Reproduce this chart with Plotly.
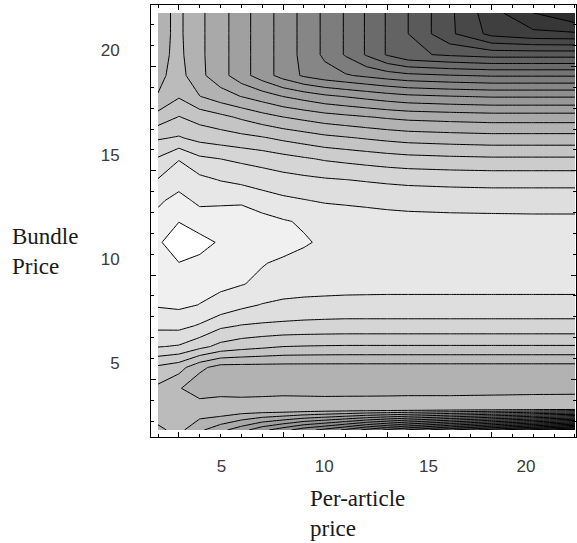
import plotly.graph_objects as go

# grid of the contour data (per-article price across, bundle price up)
per_article_price = [2, 3, 4, 5, 6, 7, 8, 9, 10, 11, 12, 13, 14, 16, 18, 20, 22]
bundle_price = [2, 3, 4, 5, 6, 7, 8, 9, 10, 11, 12, 13, 14, 15, 16, 17, 18, 19, 20, 21, 22]

# revenue levels (one contour per unit), one list per bundle price row
row_2 = [-7.2, -6.7, -7.8, -8.7, -9.6, -10.7, -11.6, -12.6, -13.3, -14.2, -15.3, -16.2, -17.1, -18.8, -20.5, -22.1, -23.8]
row_3 = [-6.4, -6.55, -6.3, -6.1, -6.27, -6.25, -6.2, -6.25, -6.3, -6.32, -6.34, -6.35, -6.36, -6.45, -6.55, -6.65, -6.75]
row_4 = [-6.2, -6.9, -7.7, -7.6, -7.55, -7.5, -7.45, -7.45, -7.45, -7.42, -7.4, -7.38, -7.35, -7.3, -7.22, -7.15, -7.1]
row_5 = [-5.2, -5.6, -6.75, -7.4, -7.4, -7.4, -7.4, -7.4, -7.4, -7.4, -7.4, -7.4, -7.4, -7.4, -7.4, -7.4, -7.4]
row_6 = [-2.95, -3.1, -3.7, -4.3, -4.6, -4.8, -5.0, -5.05, -5.08, -5.1, -5.1, -5.1, -5.1, -5.1, -5.1, -5.1, -5.1]
row_7 = [-1.75, -1.7, -2.1, -2.8, -3.05, -3.15, -3.2, -3.25, -3.28, -3.3, -3.3, -3.3, -3.3, -3.3, -3.3, -3.3, -3.3]
row_8 = [-0.9, -0.8, -1.02, -1.3, -1.75, -2.05, -2.25, -2.33, -2.37, -2.4, -2.4, -2.4, -2.4, -2.4, -2.4, -2.4, -2.4]
row_9 = [-0.75, -0.6, -0.7, -0.82, -0.95, -1.2, -1.35, -1.45, -1.5, -1.55, -1.58, -1.6, -1.6, -1.6, -1.6, -1.6, -1.6]
row_10 = [-0.5, -0.02, -0.25, -0.45, -0.65, -0.95, -1.15, -1.3, -1.4, -1.43, -1.45, -1.45, -1.45, -1.45, -1.45, -1.45, -1.45]
row_11 = [-0.12, 0.5, 0.35, -0.12, -0.35, -0.5, -0.65, -0.9, -1.15, -1.3, -1.4, -1.45, -1.48, -1.5, -1.5, -1.5, -1.5]
row_12 = [-0.7, -0.02, -0.51, -0.55, -0.62, -0.63, -0.91, -1.12, -1.3, -1.4, -1.5, -1.6, -1.65, -1.7, -1.72, -1.75, -1.75]
row_13 = [-1.15, -0.7, -1.2, -1.15, -1.1, -1.55, -1.8, -1.95, -2.1, -2.17, -2.24, -2.31, -2.37, -2.42, -2.45, -2.45, -2.45]
row_14 = [-1.95, -1.4, -1.75, -2.05, -2.28, -2.45, -2.63, -2.77, -2.9, -2.99, -3.08, -3.17, -3.24, -3.31, -3.35, -3.35, -3.35]
row_15 = [-2.9, -2.05, -2.8, -3.0, -3.2, -3.4, -3.65, -3.88, -4.1, -4.25, -4.4, -4.55, -4.67, -4.78, -4.85, -4.85, -4.85]
row_16 = [-4.1, -3.9, -4.3, -4.5, -4.7, -4.9, -5.2, -5.46, -5.73, -5.9, -6.08, -6.25, -6.39, -6.51, -6.6, -6.6, -6.6]
row_17 = [-5.6, -4.95, -5.4, -5.73, -6.16, -6.6, -6.98, -7.27, -7.55, -7.74, -7.93, -8.12, -8.27, -8.4, -8.5, -8.5, -8.5]
row_18 = [-6.95, -6.1, -6.98, -7.55, -8.03, -8.5, -9.02, -9.41, -9.8, -10.06, -10.32, -10.58, -10.79, -10.97, -11.1, -11.1, -11.1]
row_19 = [-7.25, -6.6, -7.75, -8.6, -9.6, -10.5, -11.4, -12.15, -12.6, -12.9, -13.2, -13.5, -13.74, -13.95, -14.1, -14.1, -14.1]
row_20 = [-7.3, -6.75, -7.8, -8.6, -9.6, -10.5, -11.4, -12.3, -13.2, -14.1, -15.1, -16.1, -16.8, -17.15, -17.4, -17.4, -17.4]
row_21 = [-7.3, -6.8, -7.8, -8.6, -9.6, -10.5, -11.4, -12.3, -13.2, -14.1, -15.1, -16.1, -17.0, -18.8, -20.3, -20.75, -20.85]
row_22 = [-7.3, -6.8, -7.8, -8.6, -9.6, -10.5, -11.4, -12.3, -13.2, -14.1, -15.1, -16.1, -17.0, -18.8, -20.6, -22.0, -23.0]

x_tick_labels = ["5", "10", "15", "20"]
y_tick_labels = ["5", "10", "15", "20"]

z = [row_2, row_3, row_4, row_5, row_6, row_7, row_8, row_9, row_10, row_11,
     row_12, row_13, row_14, row_15, row_16, row_17, row_18, row_19, row_20,
     row_21, row_22]

fig = go.Figure()
fig.add_trace(go.Contour(
    x=per_article_price, y=bundle_price, z=z,
    contours=dict(start=-23, end=0, size=1, coloring="fill"),
    colorscale=[[0, "rgb(37,37,37)"], [0.9792, "rgb(244,244,244)"],
                [0.99, "rgb(255,255,255)"], [1, "rgb(255,255,255)"]],
    line=dict(color="black", width=1, smoothing=0),
    showscale=False, hoverinfo="skip",
))
# empty trace carrying the frame tick-mark axes
fig.add_trace(go.Scatter(x=[], y=[], xaxis="x2", yaxis="y2", showlegend=False, hoverinfo="skip"))

xr = [1.664, 22.05]
yr = [1.664, 22.38]
tickfont = dict(family="Liberation Sans", size=17, color="#3a3a3a")

fig.update_layout(
    width=577, height=543, autosize=False,
    margin=dict(l=151, r=1, t=5, b=106, pad=0, autoexpand=False),
    paper_bgcolor="white", plot_bgcolor="white",
    showlegend=False,
    xaxis=dict(range=xr, showgrid=False, zeroline=False, showline=True, linecolor="black",
               linewidth=1, mirror=True, ticks="", tickmode="array",
               tickvals=[5.05, 9.97, 14.97, 19.65], ticktext=x_tick_labels, tickfont=tickfont,
               ticklabelstandoff=14, automargin=False),
    yaxis=dict(range=yr, showgrid=False, zeroline=False, showline=True, linecolor="black",
               linewidth=1, mirror=True, ticks="", tickmode="array",
               tickvals=[5.2, 10.22, 15.2, 20.22], ticktext=y_tick_labels, tickfont=tickfont,
               ticklabelstandoff=27, automargin=False),
    xaxis2=dict(range=xr, overlaying="x", anchor="y", showgrid=False, zeroline=False,
                showline=False, showticklabels=False, mirror="allticks", automargin=False,
                ticks="inside", ticklen=5, tickcolor="black", tickmode="array",
                tickvals=[3, 8, 13, 18],
                minor=dict(ticks="inside", ticklen=3, tickcolor="black", tickmode="array",
                           tickvals=list(range(2, 23)), showgrid=False)),
    yaxis2=dict(range=yr, overlaying="y", anchor="x", showgrid=False, zeroline=False,
                showline=False, showticklabels=False, mirror="allticks", automargin=False,
                ticks="inside", ticklen=5, tickcolor="black", tickmode="array",
                tickvals=[4.43, 9.43, 14.43, 19.43],
                minor=dict(ticks="inside", ticklen=3, tickcolor="black", tickmode="array",
                           tickvals=[2.43 + k for k in range(20)], showgrid=False)),
    annotations=[
        dict(text="Bundle<br>Price", xref="paper", yref="paper", x=-0.331, y=0.43,
             xanchor="left", yanchor="middle", align="left", showarrow=False,
             font=dict(family="Liberation Serif", size=23, color="#1a1a1a")),
        dict(text="Per-article<br>price", xref="paper", yref="paper", x=0.37, y=-0.108,
             xanchor="left", yanchor="top", align="left", showarrow=False,
             font=dict(family="Liberation Serif", size=23, color="#1a1a1a")),
    ],
)

fig.write_html("out.html", config={"displayModeBar": False, "staticPlot": True},
               post_script="document.body.style.margin='0px';document.body.style.overflow='hidden';")
